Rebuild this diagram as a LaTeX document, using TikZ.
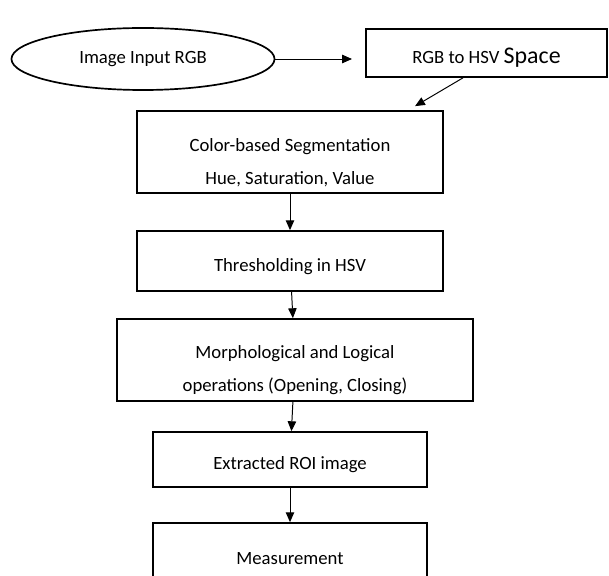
\documentclass[tikz,border=0pt]{standalone}
\usepackage{fontspec}
\setmainfont{Carlito}
\usetikzlibrary{shapes.geometric, arrows.meta}

\tikzset{
  stagebox/.style={draw, line width=1.2pt, inner sep=2pt, align=center,
    execute at begin node={\rule{0pt}{17pt}}},
  flow/.style={-{Triangle[length=7pt, width=6pt]}, line width=0.7pt}
}

\begin{document}
\begin{tikzpicture}[x=0.025cm, y=-0.025cm, font=\fontsize{13.3}{23.5}\selectfont]
\useasboundingbox (0,0) rectangle (609,576);
\node[draw, ellipse, line width=1.2pt, minimum width=6.575cm, minimum height=1.55cm] (input) at (143,59) {Image Input RGB};
\node[stagebox, minimum width=6.025cm, minimum height=1.2cm] (hsv) at (486.5,53) {RGB to HSV {\fontsize{17}{20}\selectfont Space}};
\node[stagebox, minimum width=7.65cm, minimum height=2.05cm] (seg) at (290,152) {\rule{0pt}{25pt}Color-based Segmentation\\ Hue, Saturation, Value};
\node[stagebox, minimum width=7.65cm, minimum height=1.5cm] (thresh) at (290,261) {Thresholding in HSV};
\node[stagebox, minimum width=8.9cm, minimum height=2.05cm] (morph) at (295,360) {\rule{0pt}{23pt}Morphological and Logical\\ operations (Opening, Closing)};
\node[stagebox, minimum width=6.85cm, minimum height=1.375cm] (roi) at (290,459.5) {Extracted ROI image};
\node[stagebox, minimum width=6.85cm, minimum height=1.5cm] (measure) at (290,553) {Measurement};

\coordinate (gap) at (352,59);
\draw[flow] (input.east) -- (gap);
\draw[flow] ([xshift=-0.5875cm]hsv.south) -- ([xshift=3.125cm, yshift=0.1cm]seg.north);
\draw[flow] (seg) -- (thresh);
\draw[flow] (thresh) -- (morph);
\draw[flow] (morph) -- (roi);
\draw[flow] (roi) -- (measure);
\end{tikzpicture}
\end{document}
